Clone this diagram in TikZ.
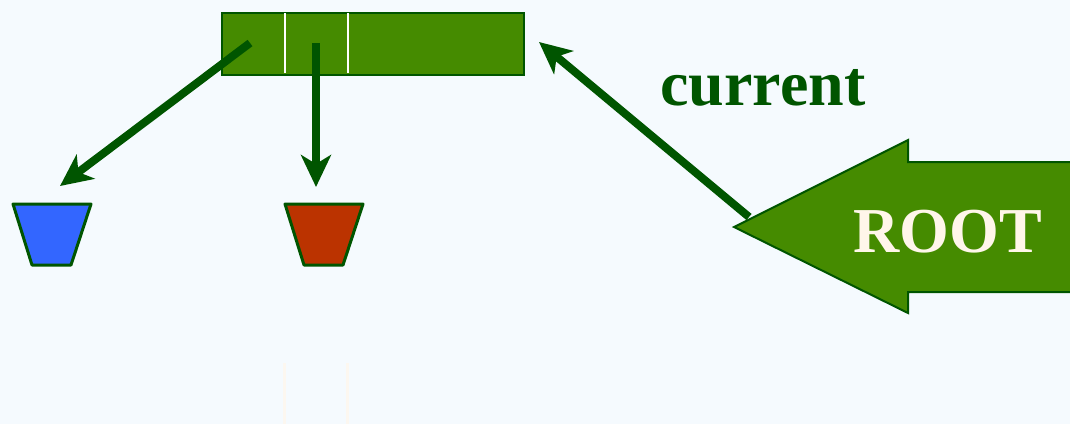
\documentclass[tikz,border=0pt]{standalone}
\usepackage{fontspec}
\setmainfont{Liberation Serif}
\usetikzlibrary{arrows.meta}
\definecolor{bg}{HTML}{F5FAFE}
\definecolor{cellgreen}{HTML}{458B00}
\definecolor{dkgreen}{HTML}{005500}
\definecolor{cream}{HTML}{FFF6EA}
\definecolor{cellblue}{HTML}{3366FF}
\definecolor{cellred}{HTML}{BB3300}
\tikzset{
  cell/.style={draw=dkgreen, line width=2pt, fill=cellgreen},
  divider/.style={draw=white, line width=2pt},
  ptr/.style={draw=dkgreen, line width=8pt, -{Stealth[length=32pt,width=30pt,inset=9pt]}},
  bucket/.style={draw=dkgreen, line width=3pt, line join=round},
  faint/.style={draw=cream!70!bg, line width=3pt},
  lbl/.style={font=\fontsize{64}{66}\selectfont\bfseries, inner sep=0pt}
}
\begin{document}
\begin{tikzpicture}[x=1pt,y=-1pt]
\useasboundingbox[fill=bg] (0,0) rectangle (1070,424);
% record
\node[cell, minimum width=302pt, minimum height=62pt, inner sep=0pt, anchor=north west] (rec) at (221,12) {};
\draw[divider] (285,13) -- (285,73);
\draw[divider] (348,13) -- (348,73);
% buckets
\draw[bucket, fill=cellblue] (13,204) -- (91,204) -- (71,265) -- (32,265) -- cycle;
\draw[bucket, fill=cellred] (285,204) -- (363,204) -- (343,265) -- (304,265) -- cycle;
% faint lines
\draw[faint] (284,363) -- (284,424);
\draw[faint] (347,363) -- (347,424);
% ROOT arrow
\draw[draw=dkgreen, line width=2pt, fill=cellgreen] (1075,162) -- (908,162) -- (908,140) -- (734,227) -- (908,313) -- (908,292) -- (1075,292);
\node[lbl, text=cream] (root) at (948,232) {ROOT};
\node[lbl, text=dkgreen] (cur) at (763,88) {current};
% pointers
\coordinate (p1) at (250,43);
\coordinate (p2) at (316,43);
\coordinate (t1) at (60,186);
\coordinate (t2) at (316,187);
\coordinate (p3) at (749,217);
\coordinate (t3) at (539,42);
\draw[ptr] (p1) -- (t1);
\draw[ptr] (p2) -- (t2);
\draw[ptr] (p3) -- (t3);
\end{tikzpicture}
\end{document}
